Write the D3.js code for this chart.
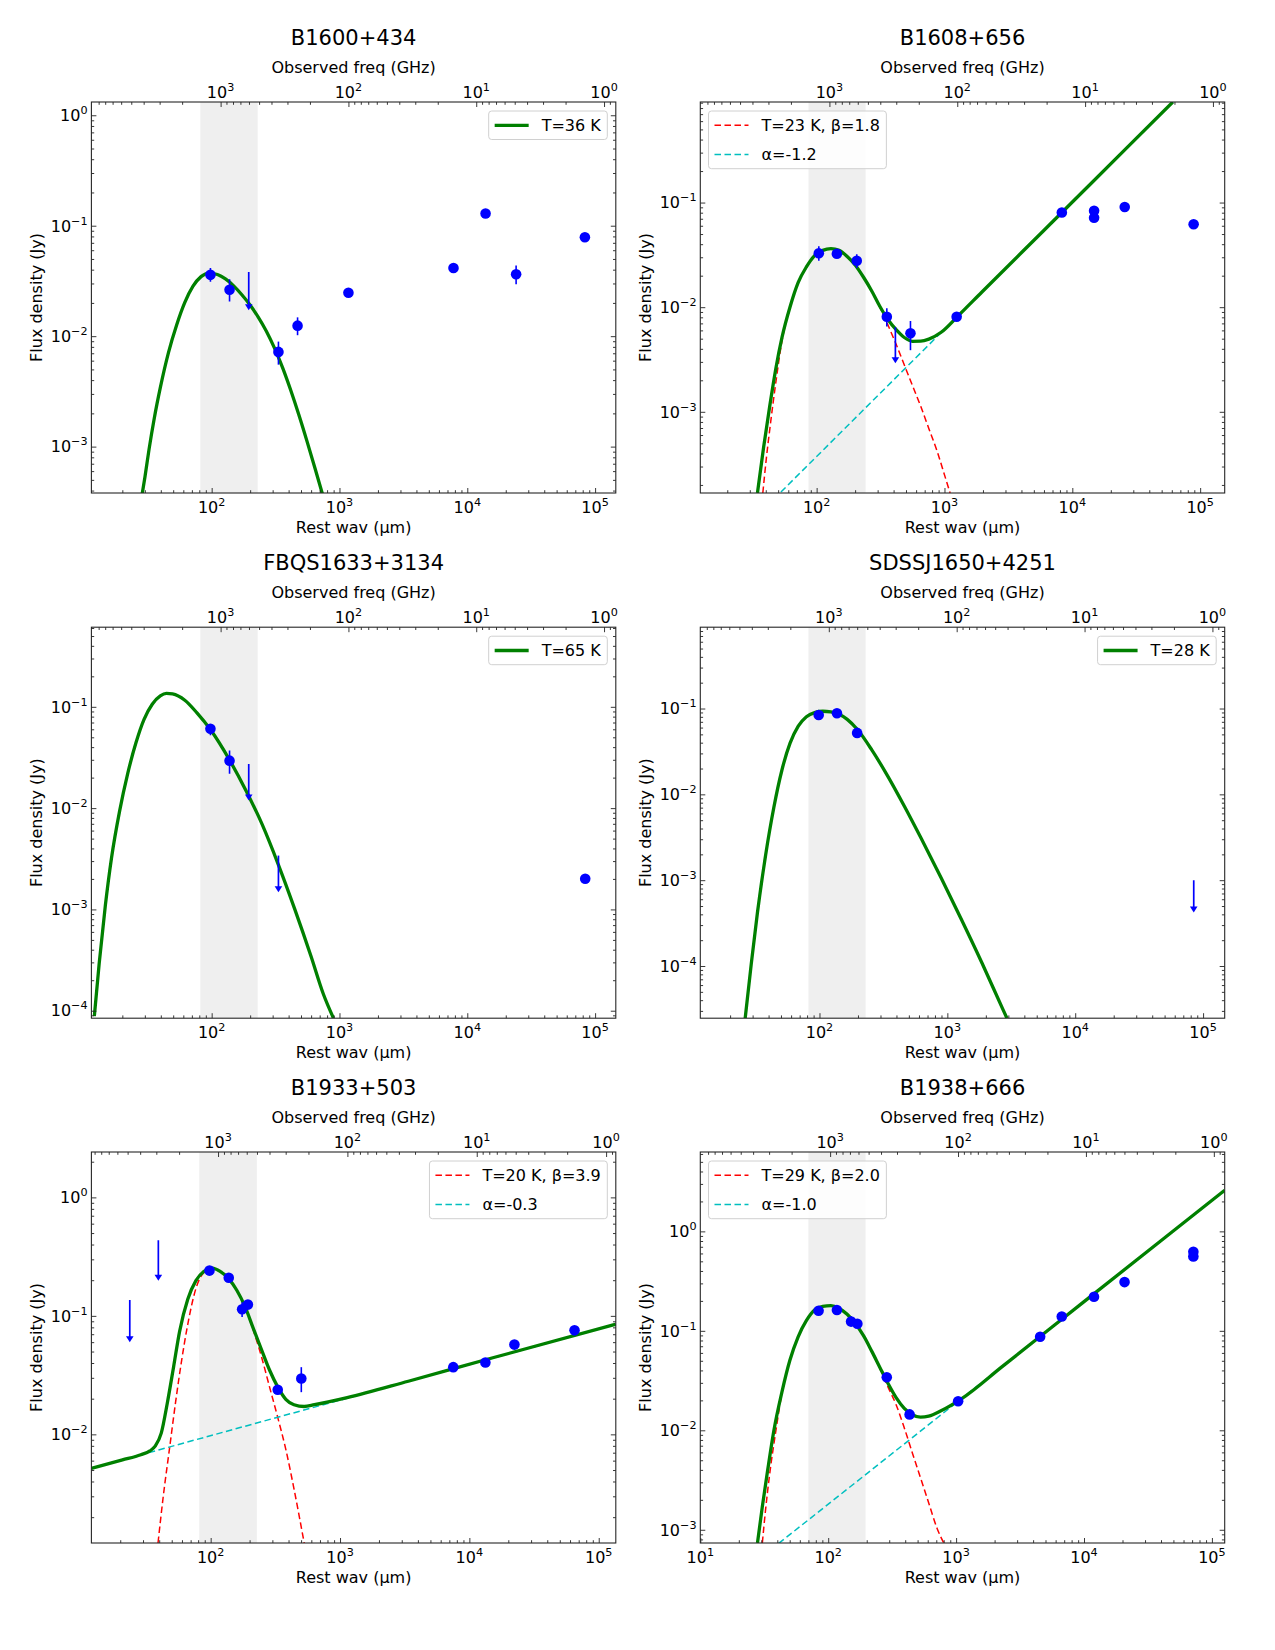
<!DOCTYPE html>
<html><head><meta charset="utf-8">
<script src="https://cdn.jsdelivr.net/npm/d3@7"></script>
<style>
body{margin:0;background:#fff;}
text{font-family:"DejaVu Sans",sans-serif;fill:#000;}
</style></head>
<body>
<svg id="chart" width="1275" height="1650"></svg>
<script>
// ---------------- DATA ----------------
const titles = ["B1600+434","B1608+656","FBQS1633+3134","SDSSJ1650+4251","B1933+503","B1938+666"];
// axis domains (log10 of rest wavelength in micron, log10 of flux density in Jy)
const xLogRange = [[1.059,5.162],[1.090,5.192],[1.059,5.162],[1.068,5.169],[1.078,5.132],[1.0,5.10]];
const yLogRange = [[-3.42,0.12],[-3.776,-0.039],[-4.074,-0.214],[-4.608,-0.0525],[-2.917,0.383],[-3.133,0.798]];
// observed frequency (GHz) = 10^k / rest wavelength (micron)
const freqLogK = [5.07,5.10,5.07,5.073,5.057,5.015];
// shaded band (rest micron)
const bands = [[81.5,229],[86.4,241.6],[81.5,229],[82,229.6],[81.6,227.5],[70,196]];
const bottomTickExp = [1,2,3,4,5];
const leftTickExp = [-4,-3,-2,-1,0];
const topTickExp = [3,2,1,0];

// measured points: [wavelength um, flux Jy, lower, upper]
const ptsB1600 = [[97.8,0.0359,0.0311,0.0415],[138,0.0263,0.0206,0.0327],[333,0.0072,0.00552,0.00893],[470,0.01245,0.0102,0.0148],[1175,0.0247,null,null],[7800,0.0414,null,null],[13900,0.129,null,null],[24100,0.0364,0.0295,0.0436],[83200,0.0787,null,null]];
const ptsB1608 = [[104,0.0328,0.0278,0.0382],[144,0.0324,0.0305,0.0345],[206,0.0278,0.0237,0.0321],[354,0.0081,0.00655,0.00977],[542,0.00562,0.00388,0.00738],[1245,0.0081,null,null],[8280,0.0803,null,null],[14800,0.0834,null,null],[14800,0.0716,null,null],[25700,0.0906,null,null],[88900,0.0621,null,null]];
const ptsFBQS1633 = [[97.8,0.0607,0.0525,0.067],[138,0.0294,0.0219,0.037],[83700,0.00201,null,null]];
const ptsSDSSJ1650 = [[98.6,0.0841,null,null],[137,0.0881,null,null],[197,0.052,0.047,0.057]];
const ptsB1933 = [[97.9,0.241,null,null],[138,0.21,null,null],[175,0.1137,0.098,0.13],[194,0.1245,null,null],[330,0.0238,null,null],[502,0.0296,0.0227,0.0369],[7510,0.0369,null,null],[13300,0.0404,null,null],[22300,0.0572,0.0525,0.062],[65000,0.0755,null,null]];
const ptsB1938 = [[84.1,0.159,null,null],[117,0.162,null,null],[151,0.124,0.11,0.14],[169,0.118,null,null],[287,0.0342,null,null],[433,0.01445,null,null],[1037,0.0196,null,null],[4540,0.0871,null,null],[6700,0.1396,null,null],[11970,0.22,null,null],[20750,0.309,0.28,0.34],[71600,0.624,null,null],[71600,0.56,null,null]];

// upper limits: [wavelength um, limit Jy, arrow tip Jy]
const limB1600 = [[195,0.038,0.0172]];
const limB1608 = [[413,0.00644,0.00291]];
const limFBQS1633 = [[195,0.0272,0.01186],[333,0.0034,0.00148]];
const limSDSSJ1650 = [[84500,0.000996,0.00042]];
const limB1933 = [[23.7,0.136,0.060],[39.4,0.435,0.198]];
const limB1938 = [];

// model curves: [log10 wavelength, log10 flux]
const greenB1600 = [[1.455,-3.438],[1.478,-3.275],[1.510,-3.025],[1.551,-2.743],[1.599,-2.462],[1.662,-2.149],[1.726,-1.899],[1.790,-1.695],[1.854,-1.548],[1.917,-1.461],[1.981,-1.429],[2.045,-1.442],[2.108,-1.482],[2.172,-1.545],[2.236,-1.625],[2.299,-1.716],[2.363,-1.825],[2.427,-1.953],[2.490,-2.104],[2.554,-2.283],[2.618,-2.488],[2.682,-2.712],[2.745,-2.948],[2.809,-3.198],[2.866,-3.426]];
const greenB1608 = [[1.537,-3.776],[1.585,-3.342],[1.633,-2.947],[1.681,-2.586],[1.729,-2.289],[1.793,-1.993],[1.856,-1.763],[1.920,-1.615],[1.984,-1.507],[2.048,-1.457],[2.112,-1.441],[2.176,-1.457],[2.239,-1.516],[2.303,-1.599],[2.367,-1.714],[2.431,-1.845],[2.495,-1.993],[2.559,-2.120],[2.622,-2.215],[2.686,-2.290],[2.750,-2.326],[2.814,-2.325],[2.878,-2.305],[2.974,-2.240],[3.101,-2.090],[3.293,-1.855],[3.771,-1.274],[4.091,-0.885],[4.410,-0.497],[4.786,-0.039]];
const redB1608 = [[1.579,-3.776],[1.607,-3.441],[1.639,-3.112],[1.681,-2.717],[1.729,-2.322],[1.793,-1.998],[1.856,-1.765],[1.920,-1.616],[1.984,-1.508],[2.048,-1.458],[2.112,-1.442],[2.176,-1.458],[2.239,-1.517],[2.303,-1.601],[2.367,-1.718],[2.431,-1.852],[2.495,-2.003],[2.559,-2.174],[2.622,-2.355],[2.686,-2.553],[2.750,-2.750],[2.814,-2.947],[2.878,-3.161],[2.942,-3.375],[3.005,-3.622],[3.044,-3.776]];
const cyanB1608 = [[1.0,-4.643],[5.2,0.464]];
const greenFBQS1633 = [[1.082,-4.054],[1.120,-3.532],[1.168,-2.963],[1.216,-2.495],[1.280,-2.027],[1.343,-1.659],[1.407,-1.358],[1.471,-1.124],[1.535,-0.975],[1.598,-0.893],[1.646,-0.868],[1.694,-0.873],[1.790,-0.935],[1.885,-1.060],[1.990,-1.224],[2.140,-1.525],[2.268,-1.826],[2.395,-2.161],[2.523,-2.562],[2.650,-2.997],[2.778,-3.465],[2.873,-3.833],[2.953,-4.074]];
const greenSDSSJ1650 = [[1.419,-4.608],[1.467,-3.969],[1.515,-3.377],[1.579,-2.706],[1.643,-2.153],[1.706,-1.719],[1.770,-1.403],[1.834,-1.205],[1.898,-1.095],[1.962,-1.047],[2.026,-1.032],[2.089,-1.039],[2.153,-1.067],[2.217,-1.126],[2.297,-1.245],[2.409,-1.482],[2.536,-1.793],[2.664,-2.139],[2.792,-2.504],[2.951,-2.973],[3.111,-3.461],[3.270,-3.962],[3.430,-4.490],[3.466,-4.608]];
const greenB1933 = [[1.078,-2.287],[1.318,-2.216],[1.460,-2.172],[1.530,-2.140],[1.571,-2.100],[1.618,-1.990],[1.665,-1.735],[1.713,-1.433],[1.760,-1.131],[1.823,-0.860],[1.886,-0.703],[1.949,-0.624],[2.013,-0.597],[2.076,-0.627],[2.139,-0.685],[2.202,-0.784],[2.265,-0.920],[2.328,-1.101],[2.392,-1.282],[2.455,-1.457],[2.518,-1.599],[2.581,-1.704],[2.644,-1.750],[2.723,-1.765],[2.802,-1.750],[3.055,-1.690],[3.528,-1.552],[4.160,-1.360],[5.132,-1.071]];
const redB1933 = [[1.593,-2.917],[1.634,-2.519],[1.681,-2.127],[1.728,-1.735],[1.776,-1.373],[1.823,-1.071],[1.886,-0.769],[1.949,-0.633],[2.013,-0.603],[2.076,-0.627],[2.139,-0.685],[2.202,-0.784],[2.265,-0.926],[2.328,-1.116],[2.392,-1.342],[2.455,-1.599],[2.518,-1.855],[2.581,-2.127],[2.644,-2.459],[2.723,-2.917]];
const cyanB1933 = [[1.0,-2.311],[5.2,-1.051]];
const greenB1938 = [[1.447,-3.133],[1.485,-2.767],[1.526,-2.407],[1.574,-2.012],[1.638,-1.617],[1.701,-1.294],[1.765,-1.060],[1.829,-0.898],[1.893,-0.791],[1.957,-0.755],[2.021,-0.747],[2.084,-0.773],[2.148,-0.834],[2.212,-0.927],[2.276,-1.049],[2.340,-1.204],[2.403,-1.365],[2.467,-1.527],[2.531,-1.671],[2.595,-1.779],[2.658,-1.843],[2.722,-1.868],[2.786,-1.858],[2.882,-1.804],[3.041,-1.684],[3.360,-1.360],[3.998,-0.709],[4.636,-0.059],[5.100,0.413]];
const redB1938 = [[1.485,-3.133],[1.510,-2.803],[1.542,-2.443],[1.590,-2.012],[1.638,-1.630],[1.701,-1.300],[1.765,-1.062],[1.829,-0.899],[1.893,-0.792],[1.957,-0.756],[2.021,-0.748],[2.084,-0.774],[2.148,-0.835],[2.212,-0.929],[2.276,-1.052],[2.340,-1.210],[2.403,-1.375],[2.467,-1.563],[2.531,-1.743],[2.595,-1.976],[2.658,-2.228],[2.722,-2.479],[2.786,-2.731],[2.850,-2.982],[2.904,-3.133]];
const cyanB1938 = [[1.0,-3.761],[5.2,0.515]];

const legendLabels = [["T=36 K"],["T=23 K, \u03b2=1.8","\u03b1=-1.2"],["T=65 K"],["T=28 K"],["T=20 K, \u03b2=3.9","\u03b1=-0.3"],["T=29 K, \u03b2=2.0","\u03b1=-1.0"]];

// ---------------- CONFIG ----------------
const panels = [
  {pts:ptsB1600, lim:limB1600, curves:[["green",greenB1600]], legend:[["green",legendLabels[0][0]]], legPos:"ur"},
  {pts:ptsB1608, lim:limB1608, curves:[["red",redB1608],["cyan",cyanB1608],["green",greenB1608]], legend:[["red",legendLabels[1][0]],["cyan",legendLabels[1][1]]], legPos:"ul"},
  {pts:ptsFBQS1633, lim:limFBQS1633, curves:[["green",greenFBQS1633]], legend:[["green",legendLabels[2][0]]], legPos:"ur"},
  {pts:ptsSDSSJ1650, lim:limSDSSJ1650, curves:[["green",greenSDSSJ1650]], legend:[["green",legendLabels[3][0]]], legPos:"ur"},
  {pts:ptsB1933, lim:limB1933, curves:[["red",redB1933],["cyan",cyanB1933],["green",greenB1933]], legend:[["red",legendLabels[4][0]],["cyan",legendLabels[4][1]]], legPos:"ur"},
  {pts:ptsB1938, lim:limB1938, curves:[["red",redB1938],["cyan",cyanB1938],["green",greenB1938]], legend:[["red",legendLabels[5][0]],["cyan",legendLabels[5][1]]], legPos:"ul"}
];
const styles = {
  green:{stroke:"#008000", w:3.3, dash:null},
  red:{stroke:"#ff0000", w:1.5, dash:"6.5,3.5"},
  cyan:{stroke:"#00bfbf", w:1.5, dash:"6.5,3.5"}
};
const W = 524.4, H = 391;
const layout = [[91.4,102],[700.3,102],[91.4,627.2],[700.3,627.2],[91.4,1152],[700.3,1152]];
const BLUE = "#0000ff";

const svg = d3.select("#chart");

function logTicks(lo, hi){
  const major=[], minor=[];
  for(let e=Math.floor(lo)-1;e<=Math.ceil(hi)+1;e++){
    if(e>=lo-1e-9 && e<=hi+1e-9) major.push(Math.pow(10,e));
    for(let m=2;m<=9;m++){const v=m*Math.pow(10,e);const lv=Math.log10(v); if(lv>lo && lv<hi) minor.push(v);}
  }
  return {major,minor};
}
function expLabel(sel, e){
  sel.append("tspan").text("10");
  sel.append("tspan").attr("dy",-7).attr("font-size","11.2px").text(e<0?"\u2212"+(-e):String(e));
}

panels.forEach((p,i)=>{
  const [L,T] = layout[i];
  const g = svg.append("g").attr("transform",`translate(${L},${T})`);
  const xr = xLogRange[i], yr = yLogRange[i];
  const x = d3.scaleLog().domain([Math.pow(10,xr[0]),Math.pow(10,xr[1])]).range([0,W]);
  const y = d3.scaleLog().domain([Math.pow(10,yr[0]),Math.pow(10,yr[1])]).range([H,0]);
  const K = Math.pow(10,freqLogK[i]);
  const xf = d3.scaleLog().domain([K/x.domain()[0], K/x.domain()[1]]).range([0,W]);

  const cid = "clip"+i;
  g.append("clipPath").attr("id",cid).append("rect").attr("width",W).attr("height",H);
  const plot = g.append("g").attr("clip-path",`url(#${cid})`);

  // shaded band
  plot.append("rect").attr("x",x(bands[i][0])).attr("y",0)
    .attr("width",x(bands[i][1])-x(bands[i][0])).attr("height",H).attr("fill","#efefef");

  // curves
  const line = d3.line().x(d=>x(Math.pow(10,d[0]))).y(d=>y(Math.pow(10,d[1]))).curve(d3.curveMonotoneX);
  p.curves.forEach(([k,arr])=>{
    const s = styles[k];
    plot.append("path").attr("d",line(arr)).attr("fill","none").attr("stroke",s.stroke)
      .attr("stroke-width",s.w).attr("stroke-dasharray",s.dash).attr("stroke-linejoin","round");
  });

  // error bars
  p.pts.filter(d=>d[2]!=null).forEach(d=>{
    plot.append("line").attr("x1",x(d[0])).attr("x2",x(d[0])).attr("y1",y(d[2])).attr("y2",y(d[3]))
      .attr("stroke",BLUE).attr("stroke-width",1.6);
  });
  // points
  plot.selectAll("circle.pt").data(p.pts).enter().append("circle").attr("class","pt")
    .attr("cx",d=>x(d[0])).attr("cy",d=>y(d[1])).attr("r",5.3).attr("fill",BLUE);
  // upper limits
  p.lim.forEach(d=>{
    const xx=x(d[0]), y0=y(d[1]), y1=y(d[2]);
    plot.append("line").attr("x1",xx).attr("x2",xx).attr("y1",y0).attr("y2",y1-3)
      .attr("stroke",BLUE).attr("stroke-width",1.7);
    plot.append("path").attr("d",`M${xx-3.8},${y1-6}L${xx+3.8},${y1-6}L${xx},${y1}Z`).attr("fill",BLUE);
  });

  // axes ticks
  const bt = logTicks(xr[0],xr[1]);
  const lt = logTicks(yr[0],yr[1]);
  const fr = [Math.log10(xf.domain()[1]), Math.log10(xf.domain()[0])];
  const tt = logTicks(fr[0],fr[1]);
  const tickStyle = s=>{s.select(".domain").remove(); s.selectAll("line").attr("stroke","#222").attr("stroke-width",0.9);};
  g.append("g").attr("transform",`translate(0,${H})`).call(d3.axisBottom(x).tickValues(bt.major).tickSize(-5).tickFormat("")).call(tickStyle);
  g.append("g").attr("transform",`translate(0,${H})`).call(d3.axisBottom(x).tickValues(bt.minor).tickSize(-2.8).tickFormat("")).call(tickStyle);
  g.append("g").call(d3.axisLeft(y).tickValues(lt.major).tickSize(-5).tickFormat("")).call(tickStyle);
  g.append("g").call(d3.axisLeft(y).tickValues(lt.minor).tickSize(-2.8).tickFormat("")).call(tickStyle);
  g.append("g").attr("transform",`translate(${W},0)`).call(d3.axisRight(y).tickValues(lt.major).tickSize(-5).tickFormat("")).call(tickStyle);
  g.append("g").attr("transform",`translate(${W},0)`).call(d3.axisRight(y).tickValues(lt.minor).tickSize(-2.8).tickFormat("")).call(tickStyle);
  const topMajor = topTickExp.map(e=>Math.pow(10,e));
  g.append("g").call(d3.axisTop(xf).tickValues(topMajor).tickSize(-5).tickFormat("")).call(tickStyle);
  g.append("g").call(d3.axisTop(xf).tickValues(tt.minor).tickSize(-2.8).tickFormat("")).call(tickStyle);

  // frame
  g.append("rect").attr("width",W).attr("height",H).attr("fill","none").attr("stroke","#262626").attr("stroke-width",1.1);

  // tick labels
  bottomTickExp.filter(e=>e>=xr[0]-0.01 && e<=xr[1]).forEach(e=>{
    const t = g.append("text").attr("x",x(Math.pow(10,e))).attr("y",H+19.5).attr("text-anchor","middle").attr("font-size","16px");
    expLabel(t,e);
  });
  leftTickExp.filter(e=>e>=yr[0]-0.01 && e<=yr[1]).forEach(e=>{
    const t = g.append("text").attr("x",-3.8).attr("y",y(Math.pow(10,e))+5.8).attr("text-anchor","end").attr("font-size","16px");
    expLabel(t,e);
  });
  topTickExp.forEach(e=>{
    const t = g.append("text").attr("x",xf(Math.pow(10,e))).attr("y",-4).attr("text-anchor","middle").attr("font-size","16px");
    expLabel(t,e);
  });

  // axis labels and title
  g.append("text").attr("x",W/2).attr("y",H+40).attr("text-anchor","middle").attr("font-size","16px").text("Rest wav (\u03bcm)");
  g.append("text").attr("x",W/2).attr("y",-29.5).attr("text-anchor","middle").attr("font-size","16px").text("Observed freq (GHz)");
  g.append("text").attr("x",W/2).attr("y",-57).attr("text-anchor","middle").attr("font-size","21px").text(titles[i]);
  g.append("text").attr("transform",`translate(${-49.7},${H/2}) rotate(-90)`).attr("text-anchor","middle").attr("font-size","16px").text("Flux density (Jy)");

  // legend
  const lg = g.append("g");
  const box = lg.append("rect");
  let maxLen = 0;
  const items = lg.append("g");
  p.legend.forEach(([k,lab],j)=>{
    const t = items.append("text").attr("x",53).attr("y",14.3+j*29.3+5.8).attr("font-size","16px").text(lab);
    maxLen = Math.max(maxLen, t.node().getComputedTextLength());
    const s = styles[k];
    items.append("line").attr("x1",6).attr("x2",40).attr("y1",14.3+j*29.3).attr("y2",14.3+j*29.3)
      .attr("stroke",s.stroke).attr("stroke-width",s.w).attr("stroke-dasharray",s.dash);
  });
  const bw = 53+maxLen+6.5, bh = p.legend.length===1?28.5:57.7;
  box.attr("width",bw).attr("height",bh).attr("rx",3).attr("fill","#fff").attr("fill-opacity",0.85)
    .attr("stroke","#d0d0d0").attr("stroke-width",1);
  const lx = p.legPos==="ur" ? W-8.5-bw : 8.2;
  lg.attr("transform",`translate(${lx},9)`);
});
</script>
</body></html>
